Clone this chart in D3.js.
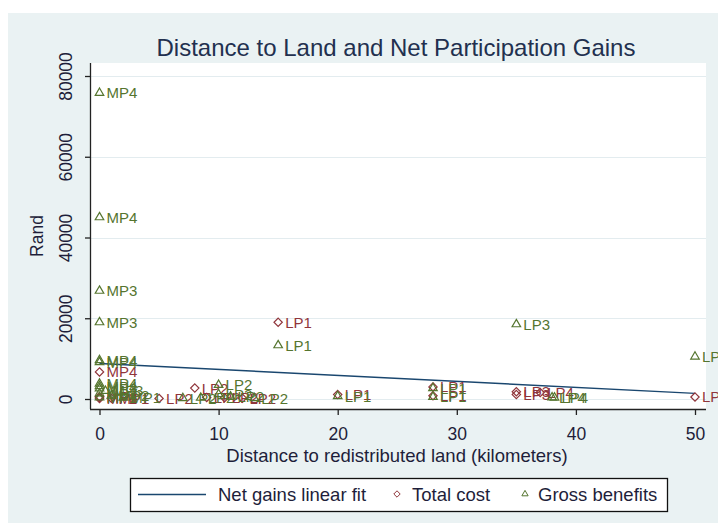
<!DOCTYPE html>
<html>
<head>
<meta charset="utf-8">
<script src="https://cdn.jsdelivr.net/npm/d3@7/dist/d3.min.js"></script>
<style>
  html, body { margin: 0; padding: 0; background: #ffffff; }
  svg { display: block; font-family: "Liberation Sans", Arial, sans-serif; }
</style>
</head>
<body>
<svg id="chart" width="718" height="524"></svg>
<script>
// Gross benefits (triangles): distance in km, value in Rand, project label
const benefitDist  = [0, 0, 0, 0, 0, 0, 0, 0, 0, 0.5, 0, 1, 0, 2, 15, 35, 50, 7, 8.5, 10, 10, 11, 13, 20, 28, 28, 38, 38.2];
const benefitValue = [75800, 45000, 26800, 19000, 9600, 9100, 3800, 3200, 2600, 2000, 1400, 800, 400, 300, 13300, 18500, 10500, 200, 300, 3500, 1200, 600, 200, 700, 2700, 500, 400, 350];
const benefitLabel = ["MP4", "MP4", "MP3", "MP3", "MP4", "MP4", "MP4", "MP4", "MP3", "MP3", "MP2", "MP2", "MP1", "MP1", "LP1", "LP3", "LP3", "LP2", "LP2", "LP2", "LP2", "LP2", "LP2", "LP1", "LP1", "LP1", "LP4", "LP4"];

// Total cost (diamonds)
const costDist  = [0, 0, 0, 0, 1, 5, 8, 9, 10.5, 12, 15, 20, 28, 28, 35, 35, 37, 50];
const costValue = [6700, 600, 300, 100, 200, 150, 2700, 400, 300, 200, 19000, 1100, 3000, 800, 1800, 1100, 1600, 500];
const costLabel = ["MP4", "MP4", "MP3", "MP2", "MP1", "LP2", "LP2", "LP2", "LP2", "LP2", "LP1", "LP1", "LP1", "LP1", "LP3", "LP3", "LP4", "LP4"];

// Linear fit of net gains on distance (end points)
const fitDist  = [0, 50];
const fitValue = [8800, 1400];

// Axis ticks
const xTicks = [0, 10, 20, 30, 40, 50];
const yTicks = [0, 20000, 40000, 60000, 80000];

const colNavy = "#1a476f", colMaroon = "#90353b", colGreen = "#55752f";
const textCol = "#1e1e3a";
const axisFont = 17.5, legendFont = 18.5, markLabelFont = 15;

const svg = d3.select("#chart");

// Outer graph region
svg.append("rect").attr("x", 8).attr("y", 13).attr("width", 710).attr("height", 510).attr("fill", "#eaf2f3");

// Plot region
const plot = { left: 90, right: 706, top: 63, bottom: 409 };
svg.append("rect").attr("x", plot.left).attr("y", plot.top)
  .attr("width", plot.right - plot.left).attr("height", plot.bottom - plot.top).attr("fill", "#ffffff");

const x = d3.scaleLinear().domain([0, 50]).range([99.5, 695]);
const y = d3.scaleLinear().domain([0, 80000]).range([399, 76]);

// Horizontal grid lines
svg.append("g").selectAll("line").data(yTicks).join("line")
  .attr("x1", plot.left).attr("x2", plot.right)
  .attr("y1", d => Math.round(y(d)) + 0.5).attr("y2", d => Math.round(y(d)) + 0.5)
  .attr("stroke", "#e3ecef").attr("stroke-width", 1);

// Y axis
const yAxis = svg.append("g").attr("transform", `translate(${plot.left},0)`)
  .call(d3.axisLeft(y).tickValues(yTicks).tickSize(5).tickPadding(0).tickFormat(d3.format("d")));
yAxis.select(".domain").attr("d", `M0.5,${plot.top}V${plot.bottom}`).attr("stroke", "#222").attr("stroke-width", 1.3);
yAxis.selectAll(".tick line").attr("stroke", "#222").attr("stroke-width", 1.3);
yAxis.selectAll(".tick text")
  .attr("x", 0).attr("y", 0).attr("dy", 0)
  .attr("transform", "translate(-18,0) rotate(-90)")
  .attr("text-anchor", "middle")
  .attr("font-size", axisFont).attr("fill", textCol)
  .style("font-family", "Liberation Sans, Arial, sans-serif");

// X axis
const xAxis = svg.append("g").attr("transform", `translate(0,${plot.bottom})`)
  .call(d3.axisBottom(x).tickValues(xTicks).tickSize(6).tickPadding(0).tickFormat(d3.format("d")));
xAxis.select(".domain").attr("d", `M${plot.left},0.5H${plot.right}`).attr("stroke", "#222").attr("stroke-width", 1.3);
xAxis.selectAll(".tick line").attr("stroke", "#222").attr("stroke-width", 1.3);
xAxis.selectAll(".tick text")
  .attr("y", 31).attr("dy", 0)
  .attr("font-size", axisFont).attr("fill", textCol)
  .style("font-family", "Liberation Sans, Arial, sans-serif");

// Titles
svg.append("text").attr("x", 396).attr("y", 56).attr("text-anchor", "middle")
  .attr("font-size", 24).attr("fill", "#22304f").text("Distance to Land and Net Participation Gains");
svg.append("text").attr("x", 397).attr("y", 462).attr("text-anchor", "middle")
  .attr("font-size", legendFont).attr("fill", textCol).text("Distance to redistributed land (kilometers)");
svg.append("text").attr("transform", "translate(43,236) rotate(-90)").attr("text-anchor", "middle")
  .attr("font-size", axisFont).attr("fill", textCol).text("Rand");

// Linear fit line
const fitPts = fitDist.map((d, i) => [x(d), y(fitValue[i])]);
svg.append("path").attr("d", d3.line()(fitPts))
  .attr("fill", "none").attr("stroke", colNavy).attr("stroke-width", 1.4);

const diamond = d3.symbol().type(d3.symbolDiamond2).size(44);
const triangle = d3.symbol().type(d3.symbolTriangle2).size(52);

// Total cost markers and labels
const costG = svg.append("g");
costDist.forEach((d, i) => {
  const px = x(d), py = y(costValue[i]);
  costG.append("path").attr("d", diamond).attr("transform", `translate(${px},${py})`)
    .attr("fill", "none").attr("stroke", colMaroon).attr("stroke-width", 1.2);
  costG.append("text").attr("x", px + 7).attr("y", py + 5.5)
    .attr("font-size", markLabelFont).attr("fill", colMaroon).text(costLabel[i]);
});

// Gross benefits markers and labels
const benG = svg.append("g");
benefitDist.forEach((d, i) => {
  const px = x(d), py = y(benefitValue[i]);
  benG.append("path").attr("d", triangle).attr("transform", `translate(${px},${py})`)
    .attr("fill", "none").attr("stroke", colGreen).attr("stroke-width", 1.2);
  benG.append("text").attr("x", px + 7).attr("y", py + 5.5)
    .attr("font-size", markLabelFont).attr("fill", colGreen).text(benefitLabel[i]);
});

// Legend
const lg = svg.append("g");
lg.append("rect").attr("x", 130.5).attr("y", 478.5).attr("width", 537).attr("height", 33)
  .attr("fill", "#ffffff").attr("stroke", "#111").attr("stroke-width", 1.3);
lg.append("line").attr("x1", 138).attr("x2", 206).attr("y1", 494.5).attr("y2", 494.5)
  .attr("stroke", colNavy).attr("stroke-width", 1.4);
lg.append("text").attr("x", 218).attr("y", 500.5).attr("font-size", legendFont).attr("fill", textCol).text("Net gains linear fit");
lg.append("path").attr("d", d3.symbol().type(d3.symbolDiamond2).size(26)).attr("transform", "translate(397,494)")
  .attr("fill", "none").attr("stroke", colMaroon).attr("stroke-width", 1);
lg.append("text").attr("x", 412).attr("y", 500.5).attr("font-size", legendFont).attr("fill", textCol).text("Total cost");
lg.append("path").attr("d", d3.symbol().type(d3.symbolTriangle2).size(28)).attr("transform", "translate(525,494)")
  .attr("fill", "none").attr("stroke", colGreen).attr("stroke-width", 1);
lg.append("text").attr("x", 538).attr("y", 500.5).attr("font-size", legendFont).attr("fill", textCol).text("Gross benefits");
</script>
</body>
</html>
